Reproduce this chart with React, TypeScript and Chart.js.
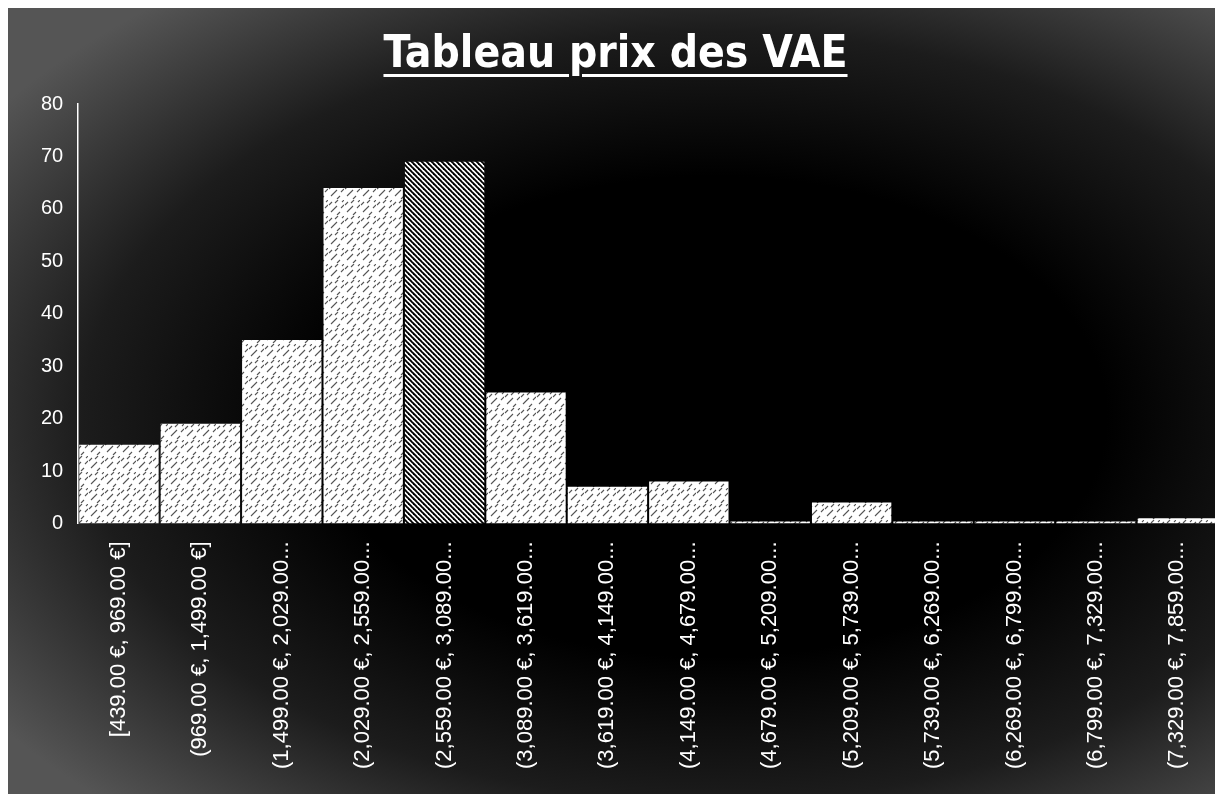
import React, { useEffect, useRef } from "react";
import { Chart, registerables } from "chart.js";

Chart.register(...registerables);

const titleText = "Tableau prix des VAE";

const categories = [
  "[439.00 €, 969.00 €]",
  "(969.00 €, 1,499.00 €]",
  "(1,499.00 €, 2,029.00...",
  "(2,029.00 €, 2,559.00...",
  "(2,559.00 €, 3,089.00...",
  "(3,089.00 €, 3,619.00...",
  "(3,619.00 €, 4,149.00...",
  "(4,149.00 €, 4,679.00...",
  "(4,679.00 €, 5,209.00...",
  "(5,209.00 €, 5,739.00...",
  "(5,739.00 €, 6,269.00...",
  "(6,269.00 €, 6,799.00...",
  "(6,799.00 €, 7,329.00...",
  "(7,329.00 €, 7,859.00...",
];

const counts = [15, 19, 35, 64, 69, 25, 7, 8, 0, 4, 0, 0, 0, 1];

const highlightedIndex = 4;

const yMin = 0;
const yMax = 80;
const yStep = 10;

function makeSparsePattern(): CanvasPattern | string {
  const c = document.createElement("canvas");
  c.width = 16;
  c.height = 16;
  const g = c.getContext("2d");
  if (!g) return "#fff";
  g.fillStyle = "#ffffff";
  g.fillRect(0, 0, 16, 16);
  g.strokeStyle = "#555555";
  g.lineWidth = 1.1;
  const dashes = [
    [1, 5],
    [7, 3],
    [13, 8],
    [3, 12],
    [9, 15],
    [14, 2],
    [6, 9],
  ];
  for (const [x, y] of dashes) {
    g.beginPath();
    g.moveTo(x, y);
    g.lineTo(x + 3, y - 3);
    g.stroke();
  }
  return g.createPattern(c, "repeat") || "#fff";
}

function makeDensePattern(): CanvasPattern | string {
  const s = 5;
  const c = document.createElement("canvas");
  c.width = s;
  c.height = s;
  const g = c.getContext("2d");
  if (!g) return "#000";
  g.fillStyle = "#ffffff";
  g.fillRect(0, 0, s, s);
  g.strokeStyle = "#000000";
  g.lineWidth = 1.9;
  for (const off of [-s, 0, s]) {
    g.beginPath();
    g.moveTo(off - 1, -1);
    g.lineTo(off + s + 1, s + 1);
    g.stroke();
  }
  return g.createPattern(c, "repeat") || "#000";
}

export default function App() {
  const canvasRef = useRef<HTMLCanvasElement | null>(null);

  useEffect(() => {
    document.documentElement.style.overflow = "hidden";
    document.body.style.overflow = "hidden";
    const canvas = canvasRef.current;
    if (!canvas) return;
    const sparse = makeSparsePattern();
    const dense = makeDensePattern();
    const fills = counts.map((_, i) => (i === highlightedIndex ? dense : sparse));

    const chart = new Chart(canvas, {
      type: "bar",
      data: {
        labels: categories,
        datasets: [
          {
            data: counts,
            backgroundColor: fills as any,
            borderWidth: 0,
            barPercentage: 0.975,
            categoryPercentage: 1,
            minBarLength: 2,
          },
        ],
      },
      options: {
        responsive: false,
        animation: false,
        layout: { padding: { left: 18, right: 5, top: 96, bottom: 7 } },
        plugins: {
          legend: { display: false },
          tooltip: { enabled: false },
          title: { display: false },
        },
        scales: {
          x: {
            grid: { display: false, drawTicks: false },
            border: { display: false },
            ticks: {
              color: "#ffffff",
              autoSkip: false,
              minRotation: 90,
              maxRotation: 90,
              padding: 18,
              font: { family: "'Liberation Sans', Arial, sans-serif", size: 22 },
            },
          },
          y: {
            min: yMin,
            max: yMax,
            grid: { display: false, drawTicks: false },
            border: { display: true, color: "#ffffff", width: 1.5 },
            ticks: {
              stepSize: yStep,
              color: "#ffffff",
              padding: 15,
              font: { family: "'Liberation Sans', Arial, sans-serif", size: 20 },
            },
          },
        },
      },
    });
    return () => chart.destroy();
  }, []);

  return (
    <div
      style={{
        position: "relative",
        width: 1215,
        height: 786,
        background:
          "radial-gradient(ellipse 72% 68% at 58% 52%, #000 45%, #1c1c1c 72%, #555 100%)",
        overflow: "hidden",
      }}
    >
      <div
        style={{
          position: "absolute",
          top: 22,
          left: 0,
          width: "100%",
          textAlign: "center",
          color: "#ffffff",
          fontFamily: "'Liberation Sans Narrow', 'DejaVu Sans Condensed', sans-serif",
          fontWeight: "bold",
          fontSize: 44,
          lineHeight: "44px",
          textDecoration: "underline",
          textDecorationThickness: "3px",
          textUnderlineOffset: "7px",
          zIndex: 1,
        }}
      >
        {titleText}
      </div>
      <canvas ref={canvasRef} width={1215} height={786} style={{ display: "block" }} />
    </div>
  );
}
